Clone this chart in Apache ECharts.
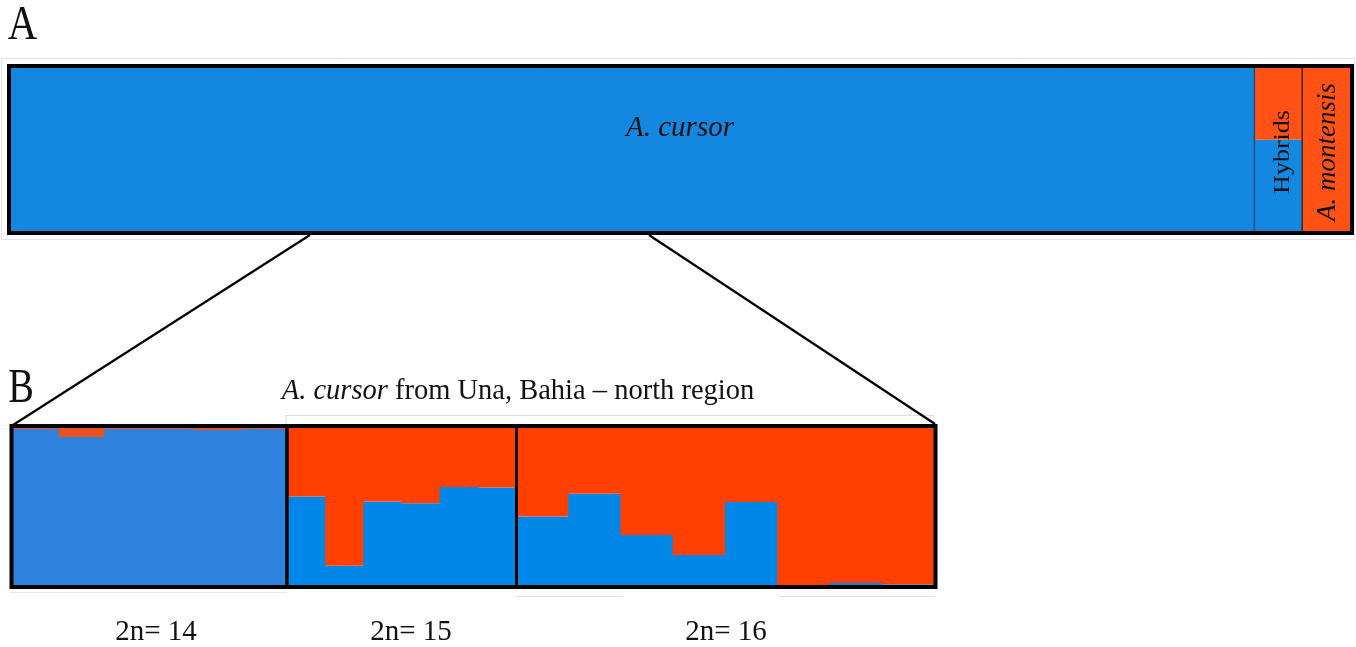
<!DOCTYPE html>
<html>
<head>
<meta charset="utf-8">
<title>STRUCTURE ancestry – A. cursor / A. montensis</title>
<script src="https://cdn.jsdelivr.net/npm/echarts@6/dist/echarts.min.js"></script>
<style>
  html, body { margin: 0; padding: 0; background: #ffffff; }
  #chart { width: 1356px; height: 647px; }
</style>
</head>
<body>
<div id="chart"></div>
<script>
// ---- Panel A: all individuals, share of cluster 1 (blue); rest is cluster 2 (orange)
const panelAGroups = ['A. cursor', 'Hybrids', 'A. montensis'];
const panelAGroupSizes = [26, 1, 1];
const panelABlue = [
  1, 1, 1, 1, 1, 1, 1, 1, 1, 1, 1, 1, 1,
  1, 1, 1, 1, 1, 1, 1, 1, 1, 1, 1, 1, 1,
  0.56,
  0
];

// ---- Panel B: A. cursor from Una, split by karyotype
const karyotypes = ['2n= 14', '2n= 15', '2n= 16'];
const blue2n14 = [0.993, 0.942, 0.993, 0.993, 0.988, 0.993];
const blue2n15 = [0.563, 0.123, 0.532, 0.521, 0.625, 0.621];
const blue2n16 = [0.436, 0.581, 0.319, 0.191, 0.528, 0.0, 0.012, 0.004];

const FONT = '"Liberation Serif", "Times New Roman", serif';

function toItems(arr) {
  return arr.map((b, i) => [i, b]);
}

// stacked ancestry column: blue at the bottom, orange on top
function ancestryRenderer(blueColor, orangeColor) {
  return function (params, api) {
    const i = api.value(0);
    const b = api.value(1);
    const p0 = api.coord([i, 0]);
    const pb = api.coord([i + 1, b]);
    const p1 = api.coord([i + 1, 1]);
    const x = p0[0];
    const w = pb[0] - p0[0] + 0.8;
    const children = [];
    if (b > 0) {
      children.push({ type: 'rect', shape: { x: x, y: pb[1], width: w, height: p0[1] - pb[1] },
        style: { fill: blueColor } });
    }
    if (b < 1) {
      children.push({ type: 'rect', shape: { x: x, y: p1[1], width: w, height: pb[1] - p1[1] },
        style: { fill: orangeColor } });
    }
    return { type: 'group', children: children };
  };
}

// thin dividers between groups in panel A
const panelABoundaries = [];
(function () {
  let acc = 0;
  for (let g = 0; g < panelAGroupSizes.length - 1; g++) {
    acc += panelAGroupSizes[g];
    panelABoundaries.push([acc]);
  }
})();

function boundaryRenderer(params, api) {
  const x = api.value(0);
  const top = api.coord([x, 1]);
  const bot = api.coord([x, 0]);
  return { type: 'line', shape: { x1: top[0], y1: top[1], x2: bot[0], y2: bot[1] },
    style: { stroke: params.dataIndex === 0 ? '#1d4f7a' : '#3a2a22', lineWidth: 1.5 } };
}

const grids = [
  { left: 11, top: 68, width: 1339, height: 163 },
  { left: 13, top: 428, width: 274, height: 157 },
  { left: 287, width: 229, top: 428, height: 157 },
  { left: 516, width: 418, top: 428, height: 157 }
];
const groupLengths = [panelABlue.length, blue2n14.length, blue2n15.length, blue2n16.length];

const option = {
  animation: false,
  backgroundColor: '#ffffff',
  grid: grids,
  xAxis: grids.map((g, k) => ({ type: 'value', gridIndex: k, min: 0, max: groupLengths[k], show: false })),
  yAxis: grids.map((g, k) => ({ type: 'value', gridIndex: k, min: 0, max: 1, show: false })),
  series: [
    { type: 'custom', name: 'Panel A', xAxisIndex: 0, yAxisIndex: 0,
      renderItem: ancestryRenderer('#1487e0', '#ff5214'), data: toItems(panelABlue) },
    { type: 'custom', name: 'Panel A dividers', xAxisIndex: 0, yAxisIndex: 0, z: 3,
      renderItem: boundaryRenderer, data: panelABoundaries },
    { type: 'custom', name: karyotypes[0], xAxisIndex: 1, yAxisIndex: 1,
      renderItem: ancestryRenderer('#2f83de', '#e8521f'), data: toItems(blue2n14) },
    { type: 'custom', name: karyotypes[1], xAxisIndex: 2, yAxisIndex: 2,
      renderItem: ancestryRenderer('#0087e8', '#ff4000'), data: toItems(blue2n15) },
    { type: 'custom', name: karyotypes[2], xAxisIndex: 3, yAxisIndex: 3,
      renderItem: ancestryRenderer('#0087e8', '#ff4000'), data: toItems(blue2n16) }
  ],
  graphic: [
    // faint paste outlines
    { type: 'rect', z: 1, shape: { x: 1.5, y: 58.5, width: 1353, height: 181 },
      style: { fill: null, stroke: '#e4e4e4', lineWidth: 1 } },
    { type: 'line', z: 1, shape: { x1: 286, y1: 415.5, x2: 934, y2: 415.5 },
      style: { stroke: '#dedede', lineWidth: 1 } },
    { type: 'line', z: 1, shape: { x1: 286, y1: 415.5, x2: 286, y2: 424 },
      style: { stroke: '#dedede', lineWidth: 1 } },
    { type: 'line', z: 1, shape: { x1: 516, y1: 596.5, x2: 623, y2: 596.5 },
      style: { stroke: '#e2e2e2', lineWidth: 1 } },
    { type: 'line', z: 1, shape: { x1: 778, y1: 596.5, x2: 935, y2: 596.5 },
      style: { stroke: '#e2e2e2', lineWidth: 1 } },
    { type: 'line', z: 1, shape: { x1: 10, y1: 592.5, x2: 287, y2: 592.5 },
      style: { stroke: '#e8e8e8', lineWidth: 1 } },

    // frames
    { type: 'rect', z: 100, shape: { x: 9, y: 66, width: 1343, height: 167 },
      style: { fill: null, stroke: '#000000', lineWidth: 4 } },
    { type: 'rect', z: 100, shape: { x: 11.5, y: 426, width: 924, height: 161 },
      style: { fill: null, stroke: '#000000', lineWidth: 4 } },
    { type: 'line', z: 100, shape: { x1: 287, y1: 426, x2: 287, y2: 587 },
      style: { stroke: '#000000', lineWidth: 3.5 } },
    { type: 'line', z: 100, shape: { x1: 516.5, y1: 426, x2: 516.5, y2: 587 },
      style: { stroke: '#000000', lineWidth: 3 } },

    // zoom lines from panel A to panel B
    { type: 'line', z: 100, shape: { x1: 310, y1: 235, x2: 13, y2: 425 },
      style: { stroke: '#000000', lineWidth: 2.2 } },
    { type: 'line', z: 100, shape: { x1: 649, y1: 235, x2: 935, y2: 424 },
      style: { stroke: '#000000', lineWidth: 2.2 } },

    // panel letters
    { type: 'text', z: 110, x: 22.5, y: 26, scaleX: 0.85,
      style: { text: 'A', font: '48px ' + FONT, fill: '#111111', textAlign: 'center', textVerticalAlign: 'middle' } },
    { type: 'text', z: 110, x: 21, y: 389, scaleX: 0.8,
      style: { text: 'B', font: '48px ' + FONT, fill: '#111111', textAlign: 'center', textVerticalAlign: 'middle' } },

    // group names in panel A
    { type: 'text', z: 110, x: 680, y: 128,
      style: { text: panelAGroups[0], font: 'italic 29px ' + FONT, fill: '#111111', textAlign: 'center', textVerticalAlign: 'middle' } },
    { type: 'text', z: 110, x: 1283, y: 152, rotation: Math.PI / 2, scaleY: 0.9,
      style: { text: panelAGroups[1], font: '26px ' + FONT, fill: '#111111', textAlign: 'center', textVerticalAlign: 'middle' } },
    { type: 'text', z: 110, x: 1328, y: 152, rotation: Math.PI / 2,
      style: { text: panelAGroups[2], font: 'italic 27px ' + FONT, fill: '#111111', textAlign: 'center', textVerticalAlign: 'middle' } },

    // panel B heading
    { type: 'text', z: 110, x: 518, y: 392,
      style: {
        text: '{i|A. cursor} from Una, Bahia – north region',
        font: '28.5px ' + FONT, fill: '#111111', textAlign: 'center', textVerticalAlign: 'middle',
        rich: { i: { fontStyle: 'italic', fontSize: 28.5, fontFamily: FONT, fill: '#111111' } }
      } },

    // karyotype labels
    { type: 'text', z: 110, x: 156, y: 632,
      style: { text: karyotypes[0], font: '29px ' + FONT, fill: '#111111', textAlign: 'center', textVerticalAlign: 'middle' } },
    { type: 'text', z: 110, x: 411, y: 632,
      style: { text: karyotypes[1], font: '29px ' + FONT, fill: '#111111', textAlign: 'center', textVerticalAlign: 'middle' } },
    { type: 'text', z: 110, x: 726, y: 632,
      style: { text: karyotypes[2], font: '29px ' + FONT, fill: '#111111', textAlign: 'center', textVerticalAlign: 'middle' } }
  ]
};

const chart = echarts.init(document.getElementById('chart'), null, { renderer: 'canvas' });
chart.setOption(option);
</script>
</body>
</html>
